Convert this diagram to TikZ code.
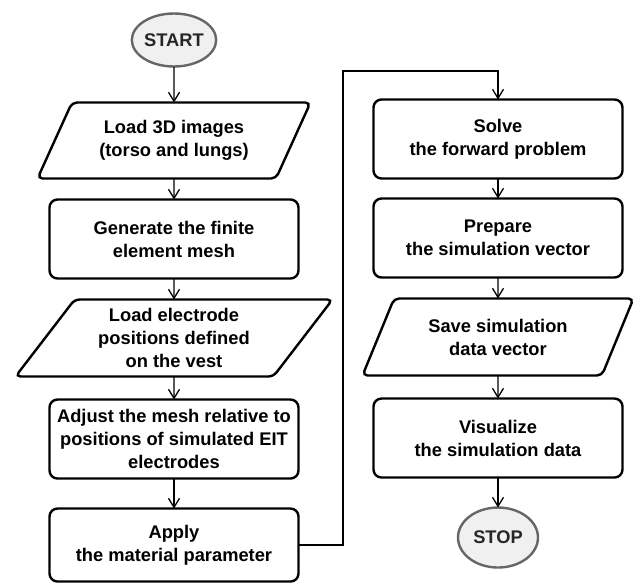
\documentclass[tikz,border=0pt]{standalone}
\usepackage{fontspec}
\setmainfont{Liberation Sans}
\usetikzlibrary{arrows.meta,positioning,shapes.geometric}

\begin{document}
\begin{tikzpicture}[x=1pt,y=-1pt,
  font=\fontsize{18.3}{23}\selectfont\bfseries,
  node distance=21pt,
  terminal/.style={ellipse,draw=black!60,fill=black!6,line width=2.4pt,outer sep=0pt,
    minimum width=79pt,minimum height=53pt,inner sep=0pt,text=black!85},
  process/.style={draw,line width=2.4pt,rounded corners=8pt,align=center,outer sep=0pt,
    minimum width=249pt,minimum height=79pt,inner sep=2pt},
  io/.style={trapezium,draw,line width=2.4pt,rounded corners=5pt,align=center,outer sep=0pt,
    trapezium stretches body,minimum height=76pt,inner sep=2pt},
  flow/.style={line width=1.3pt,-{Straight Barb[length=9pt,width=11pt]}}
]
  \useasboundingbox (0,0) rectangle (637,582);
  % left column
  \node[terminal] (start) at (174,40) {START};
  \node[io,below=36pt of start,trapezium left angle=52,trapezium right angle=128,
    minimum width=273pt] (images) {Load 3D images\\(torso and lungs)};
  \node[process,below=of images] (mesh) {Generate the finite\\element mesh};
  \node[io,below=of mesh,trapezium left angle=47,trapezium right angle=133,
    minimum width=317pt,minimum height=77pt] (electrodes)
    {Load electrode\\positions defined\\on the vest};
  \node[process,below=23pt of electrodes] (adjust)
    {Adjust the mesh relative to\\positions of simulated EIT\\electrodes};
  \node[process,below=30pt of adjust,minimum height=73pt] (material)
    {Apply\\the material parameter};
  % right column
  \node[process] (solve) at (498,139) {Solve\\the forward problem};
  \node[process,below=20pt of solve] (prepare) {Prepare\\the simulation vector};
  \node[io,below=21pt of prepare,trapezium left angle=52,trapezium right angle=128,
    minimum width=271pt,minimum height=77pt] (save) {Save simulation\\data vector};
  \node[process,below=23pt of save] (visualize) {Visualize\\the simulation data};
  \node[terminal,below=30pt of visualize,minimum width=80pt,minimum height=60pt] (stop) {STOP};
  \coordinate (jump) at (343,71);
  % connectors
  \draw[flow] (start) -- (images);
  \draw[flow] (images) -- (mesh);
  \draw[flow] (mesh) -- (electrodes);
  \draw[flow] (electrodes) -- (adjust);
  \draw[flow] (adjust) -- (material);
  \draw[flow] (material.east) -| (jump) -| (solve.north);
  \draw[flow] (solve) -- (prepare);
  \draw[flow] (prepare) -- (save);
  \draw[flow] (save) -- (visualize);
  \draw[flow] (visualize) -- (stop);
\end{tikzpicture}
\end{document}
